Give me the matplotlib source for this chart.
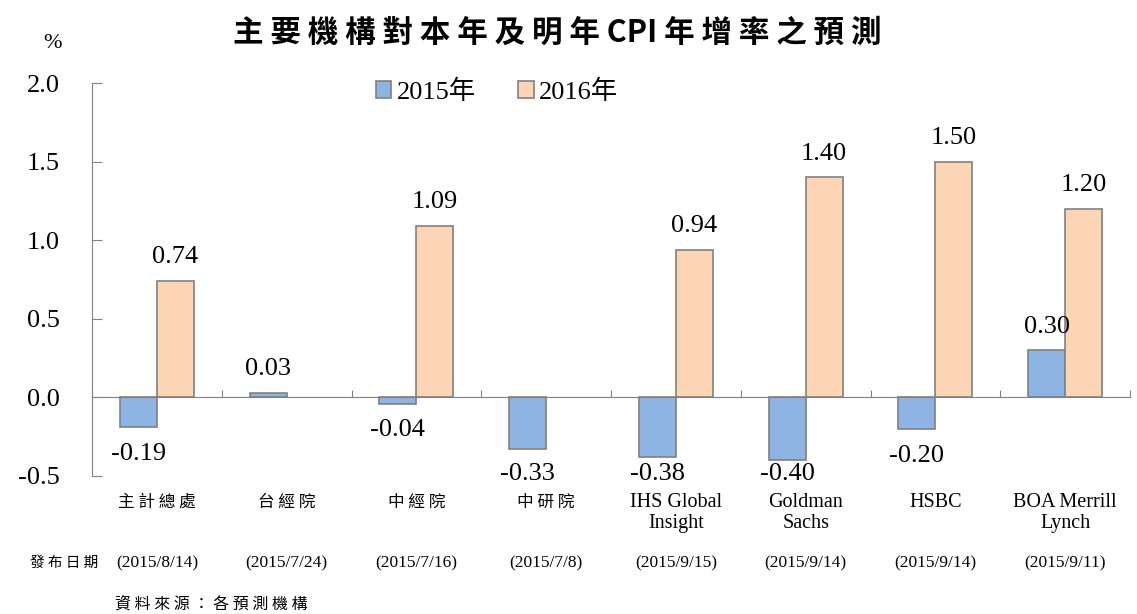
import matplotlib
matplotlib.use("Agg")
import matplotlib.pyplot as plt
import matplotlib.transforms as mtransforms
import numpy as np

categories = ["主計總處", "台經院", "中經院", "中研院", "IHS Global\nInsight",
              "Goldman\nSachs", "HSBC", "BOA Merrill\nLynch"]
dates = ["(2015/8/14)", "(2015/7/24)", "(2015/7/16)", "(2015/7/8)",
         "(2015/9/15)", "(2015/9/14)", "(2015/9/14)", "(2015/9/11)"]
cpi_2015 = [-0.19, 0.03, -0.04, -0.33, -0.38, -0.40, -0.20, 0.30]
cpi_2016 = [0.74, None, 1.09, None, 0.94, 1.40, 1.50, 1.20]
series_names = ["2015年", "2016年"]
yticks = [-0.5, 0.0, 0.5, 1.0, 1.5, 2.0]

SERIF = ["Liberation Serif", "Noto Sans CJK TC"]
CJK = ["Noto Sans CJK TC", "Liberation Serif"]
c15 = "#8EB4E3"
c16 = "#FCD5B5"
edge = "#808080"
LBL = 19

fig = plt.figure(figsize=(11.37, 6.14), dpi=100)
ax = fig.add_axes([92/1137, 1-476/614, (1130-92)/1137, (476-83)/614])

x = np.arange(len(categories))
w = 0.285
ymin, ymax = -0.5, 2.0


def label_y(v):
    if v >= 0:
        return v + 0.15
    return max(v - 0.17, ymin + 0.01)


for i, (a, b) in enumerate(zip(cpi_2015, cpi_2016)):
    if a is not None:
        ax.bar(x[i] - w/2, a, w, color=c15, edgecolor=edge, linewidth=1.2,
               label=series_names[0] if i == 0 else None)
        ax.text(x[i] - w/2, label_y(a), f"{a:.2f}", ha="center", va="center",
                fontsize=LBL, family=SERIF)
    if b is not None:
        ax.bar(x[i] + w/2, b, w, color=c16, edgecolor=edge, linewidth=1.2,
               label=series_names[1] if i == 0 else None)
        ax.text(x[i] + w/2, label_y(b), f"{b:.2f}", ha="center", va="center",
                fontsize=LBL, family=SERIF)

ax.set_xlim(-0.5, len(categories) - 0.5)
ax.set_ylim(ymin, ymax)
ax.set_yticks(yticks)
ax.set_yticklabels([f"{v:.1f}" for v in yticks], fontsize=LBL, family=SERIF)
ax.tick_params(axis="y", direction="in", length=7, color=edge, pad=23)

for s in ["top", "right"]:
    ax.spines[s].set_visible(False)
ax.spines["left"].set_color(edge)
ax.spines["bottom"].set_position(("data", 0))
ax.spines["bottom"].set_color(edge)
ax.set_xticks(np.arange(len(categories) + 1) - 0.5)
ax.tick_params(axis="x", direction="in", length=5, color=edge, labelbottom=False)

trans = mtransforms.blended_transform_factory(ax.transData, fig.transFigure)
for i, c in enumerate(categories):
    if any(ord(ch) > 0x2E80 for ch in c):
        ax.text(x[i], 1-502/614, " ".join(c),
                transform=trans, ha="center", va="center", fontsize=12, family=CJK)
    else:
        ax.text(x[i], 1-493/614, c, transform=trans, ha="center", va="top",
                fontsize=14.5, family=SERIF, linespacing=1.15)
    ax.text(x[i], 1-563/614, dates[i], transform=trans, ha="center", va="center",
            fontsize=12.5, family=SERIF)

fig.text(30/1137, 1-563/614, "發 布 日 期", ha="left", va="center",
         fontsize=10.5, family=CJK)
fig.text(115/1137, 1-604/614, "資 料 來 源 ： 各 預 測 機 構", ha="left",
         va="center", fontsize=11.5, family=CJK)
fig.text(53/1137, 1-43/614, "%", ha="center", va="center", fontsize=16, family=SERIF)
fig.text(557/1137, 1-33/614, "主 要 機 構 對 本 年 及 明 年 CPI 年 增 率 之 預 測",
         ha="center", va="center", fontsize=22, fontweight="bold", family=CJK)

leg = ax.legend(loc="center", bbox_to_anchor=((497-92)/1038, (476-92)/393), ncol=2,
                frameon=False, handlelength=0.6, handleheight=0.6, handletextpad=0.2,
                columnspacing=1.6, prop={"family": SERIF, "size": LBL})

fig.savefig("out.png", dpi=100)
